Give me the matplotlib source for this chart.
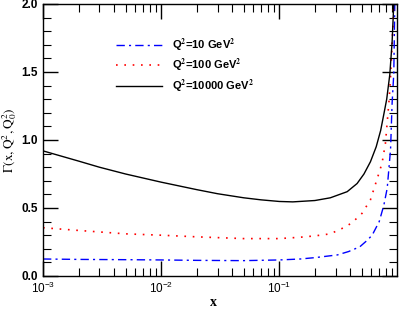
import matplotlib

matplotlib.use("Agg")
import matplotlib.pyplot as plt  # noqa: E402
from matplotlib.ticker import LogLocator, MultipleLocator  # noqa: E402

plt.rcParams["font.family"] = ["Liberation Sans", "DejaVu Sans"]
plt.rcParams["mathtext.fontset"] = "stix"

# curve readings, Q^2 = 10000 GeV^2
x_black = [0.001, 0.002, 0.003, 0.005, 0.01, 0.02, 0.03, 0.05, 0.07, 0.1, 0.13,
           0.2, 0.27, 0.375, 0.455, 0.52, 0.59, 0.66, 0.72, 0.77, 0.81, 0.86, 0.9, 0.935]
g_black = [0.92, 0.845, 0.80, 0.75, 0.69, 0.635, 0.605, 0.575, 0.56, 0.548, 0.545,
           0.555, 0.575, 0.62, 0.68, 0.75, 0.84, 0.95, 1.07, 1.2, 1.3, 1.48, 1.72, 2.05]

# Q^2 = 100 GeV^2
x_red = [0.001, 0.002, 0.005, 0.01, 0.02, 0.05, 0.1, 0.15, 0.2, 0.27, 0.35, 0.41,
         0.5, 0.59, 0.67, 0.74, 0.79, 0.85, 0.87, 0.9, 0.935]
g_red = [0.355, 0.335, 0.31, 0.30, 0.288, 0.275, 0.275, 0.285, 0.295, 0.31, 0.355, 0.39,
         0.46, 0.56, 0.71, 0.83, 0.975, 1.3, 1.44, 1.7, 2.05]

# Q^2 = 10 GeV^2
x_blue = [0.001, 0.002, 0.005, 0.01, 0.02, 0.05, 0.1, 0.15, 0.2, 0.31, 0.386, 0.48,
          0.55, 0.61, 0.70, 0.766, 0.818, 0.873, 0.90, 0.93, 0.95]
g_blue = [0.125, 0.122, 0.12, 0.118, 0.115, 0.113, 0.118, 0.125, 0.135, 0.155, 0.18, 0.215,
          0.26, 0.30, 0.40, 0.52, 0.645, 0.93, 1.27, 1.49, 2.05]

labels = [r"Q$^{\mathbf{2}}$=10 GeV$^{\mathbf{2}}$",
          r"Q$^{\mathbf{2}}$=100 GeV$^{\mathbf{2}}$",
          r"Q$^{\mathbf{2}}$=10000 GeV$^{\mathbf{2}}$"]

fig = plt.figure(figsize=(3.99, 3.10), dpi=100)
ax = fig.add_axes([43 / 399, 34 / 310, 354 / 399, 272 / 310])

ax.plot(x_blue, g_blue, color="#0000ff", lw=1.0, dashes=(6, 3, 1.5, 3), label=labels[0])
ax.plot(x_red, g_red, color="#ff0000", lw=1.2, dashes=(1, 4), label=labels[1])
ax.plot(x_black, g_black, color="black", lw=1.0, label=labels[2])

ax.set_xscale("log")
ax.set_xlim(1e-3, 0.99)
ax.set_ylim(0, 2.0)
ax.yaxis.set_major_locator(MultipleLocator(0.5))
ax.yaxis.set_minor_locator(MultipleLocator(0.1))
ax.xaxis.set_major_locator(LogLocator(base=10, numticks=10))
ax.xaxis.set_minor_locator(LogLocator(base=10, subs=range(2, 10), numticks=20))
ax.yaxis.set_major_formatter(matplotlib.ticker.FormatStrFormatter("%.1f"))

ax.tick_params(which="both", direction="in", top=True, right=True, labelsize=8.5)
ax.tick_params(which="major", length=11, width=1.0)
ax.tick_params(which="minor", length=5.5, width=0.8)
for lab in ax.get_yticklabels():
    lab.set_fontweight("bold")
for sp in ax.spines.values():
    sp.set_linewidth(1.0)

ax.set_xlabel("x", family="Liberation Serif", fontweight="bold", fontsize=10)
ax.xaxis.set_label_coords((213 - 43) / 354, -20 / 272)
ax.set_ylabel(r"$\Gamma(\mathrm{x,Q^2,Q^2_0})$", fontsize=9.5, labelpad=2)

leg = ax.legend(loc="upper left", bbox_to_anchor=(0.19, 0.9), frameon=False,
                handlelength=4.2, handletextpad=0.9, labelspacing=0.3,
                borderpad=0, prop={"weight": "bold", "size": 8})

fig.savefig("out.png", dpi=100)
